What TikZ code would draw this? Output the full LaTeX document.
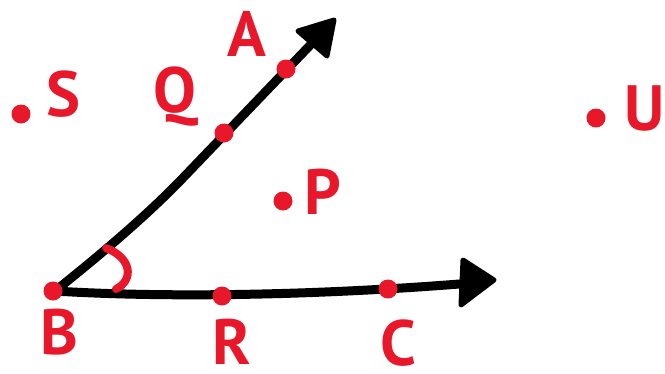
\documentclass[tikz,border=0pt]{standalone}
\usepackage{fontspec}
\setmainfont{PT Sans}
\definecolor{pred}{HTML}{E8172A}
\begin{document}
\begin{tikzpicture}[x=1pt,y=-1pt,
  ray/.style={draw=black,line width=9pt,line cap=round,line join=round},
  head/.style={fill=black,draw=black,line width=5pt,line join=round},
  dot/.style={circle,fill=pred,inner sep=0pt,minimum size=19pt},
  lbl/.style={text=pred,font=\fontsize{64}{64}\selectfont\bfseries,inner sep=0pt},
  arcmark/.style={draw=pred,line width=8pt,line cap=round}]
\useasboundingbox (0,0) rectangle (665,373);
% anchor points
\coordinate (vB) at (55,291);
\coordinate (bend) at (180,181);
\coordinate (endA) at (318,37);
\coordinate (endC) at (472,283);
% rays
\draw[ray] (vB) .. controls (90,263) and (140,222) .. (bend) -- (endA);
\draw[ray] (vB) .. controls (150,297) and (300,297) .. (endC);
% arrowheads
\filldraw[head] (298,31) -- (334,20) -- (327,56) -- cycle;
\filldraw[head] (463,260) -- (494,280) -- (461,305) -- cycle;
% angle mark
\draw[arcmark] (106,248) .. controls (132,258) and (134,280) .. (116,289);
% dots
\node[dot] (dB) at (53,291) {};
\node[dot] (dA) at (286,69) {};
\node[dot] (dQ) at (224,133) {};
\node[dot] (dR) at (222,296) {};
\node[dot] (dC) at (388,289) {};
\node[dot] (dP) at (283,201) {};
\node[dot] (dS) at (21,114) {};
\node[dot] (dU) at (596,118) {};
% labels
\node[lbl] (lA) at (247,34) {A};
\node[lbl] (lQ) at (175,97) {Q};
\node[lbl] (lS) at (63,94) {S};
\node[lbl] (lB) at (59,332) {B};
\node[lbl] (lR) at (232,342) {R};
\node[lbl] (lC) at (398,343) {C};
\node[lbl] (lP) at (323,192) {P};
\node[lbl] (lU) at (645,108) {U};
\end{tikzpicture}
\end{document}
